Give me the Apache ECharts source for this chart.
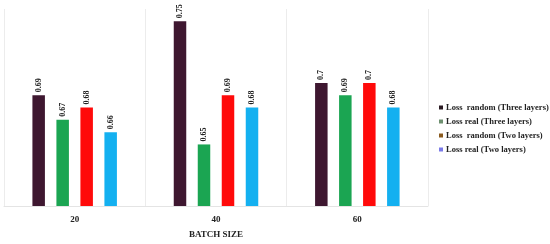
<!DOCTYPE html>
<html>
<head>
<meta charset="utf-8">
<script src="https://cdn.jsdelivr.net/npm/echarts@6/dist/echarts.min.js"></script>
<style>
  html, body { margin: 0; padding: 0; background: #fff; }
  #chart { width: 550px; height: 244px; }
</style>
</head>
<body>
<div id="chart"></div>
<script>
const categories = ['20', '40', '60'];
const seriesNames = [
  'Loss  random (Three layers)',
  'Loss real (Three layers)',
  'Loss  random (Two layers)',
  'Loss real (Two layers)'
];
const lossRandomThree = [0.69, 0.75, 0.7];
const lossRealThree = [0.67, 0.65, 0.69];
const lossRandomTwo = [0.68, 0.69, 0.7];
const lossRealTwo = [0.66, 0.68, 0.68];

const values = [lossRandomThree, lossRealThree, lossRandomTwo, lossRealTwo];
const barColors = ['#3e1730', '#1ba552', '#ff0a0a', '#14b0f0'];
const legendColors = ['#2a1a22', '#6e9070', '#8a5a1e', '#7a7ae8'];

const serif = '"Liberation Serif", "DejaVu Serif", serif';

const chart = echarts.init(document.getElementById('chart'));

const series = values.map((v, i) => ({
  name: seriesNames[i],
  type: 'bar',
  data: v,
  barWidth: 12.5,
  barGap: '92%',
  itemStyle: { color: barColors[i] },
  label: {
    show: true,
    position: 'top',
    rotate: 90,
    align: 'left',
    verticalAlign: 'middle',
    distance: 3,
    color: '#222',
    fontSize: 8,
    fontWeight: 'bold',
    fontFamily: serif
  }
}));

chart.setOption({
  animation: false,
  backgroundColor: '#fff',
  grid: { left: 4, right: 122, top: 9, bottom: 31 },
  legend: {
    orient: 'vertical',
    left: 434,
    top: 98,
    itemWidth: 4,
    itemHeight: 4,
    itemGap: 5,
    icon: 'rect',
    textStyle: { fontSize: 8.5, fontWeight: 'bold', fontFamily: serif, color: '#222', padding: [0, 0, 0, -2] },
    data: seriesNames.map((n, i) => ({ name: n, itemStyle: { color: legendColors[i] } }))
  },
  xAxis: {
    type: 'category',
    data: categories,
    name: 'BATCH SIZE',
    nameLocation: 'middle',
    nameGap: 24,
    nameTextStyle: { fontSize: 9, fontWeight: 'bold', fontFamily: serif, color: '#222' },
    axisLine: { lineStyle: { color: '#e4e4e4' } },
    axisTick: { show: false },
    splitLine: { show: true, lineStyle: { color: '#ececec' } },
    axisLabel: { fontSize: 9, fontWeight: 'bold', fontFamily: serif, color: '#222', margin: 9 }
  },
  yAxis: {
    type: 'value',
    min: 0.6,
    max: 0.76,
    show: false,
    splitLine: { show: false }
  },
  series
});
</script>
</body>
</html>
